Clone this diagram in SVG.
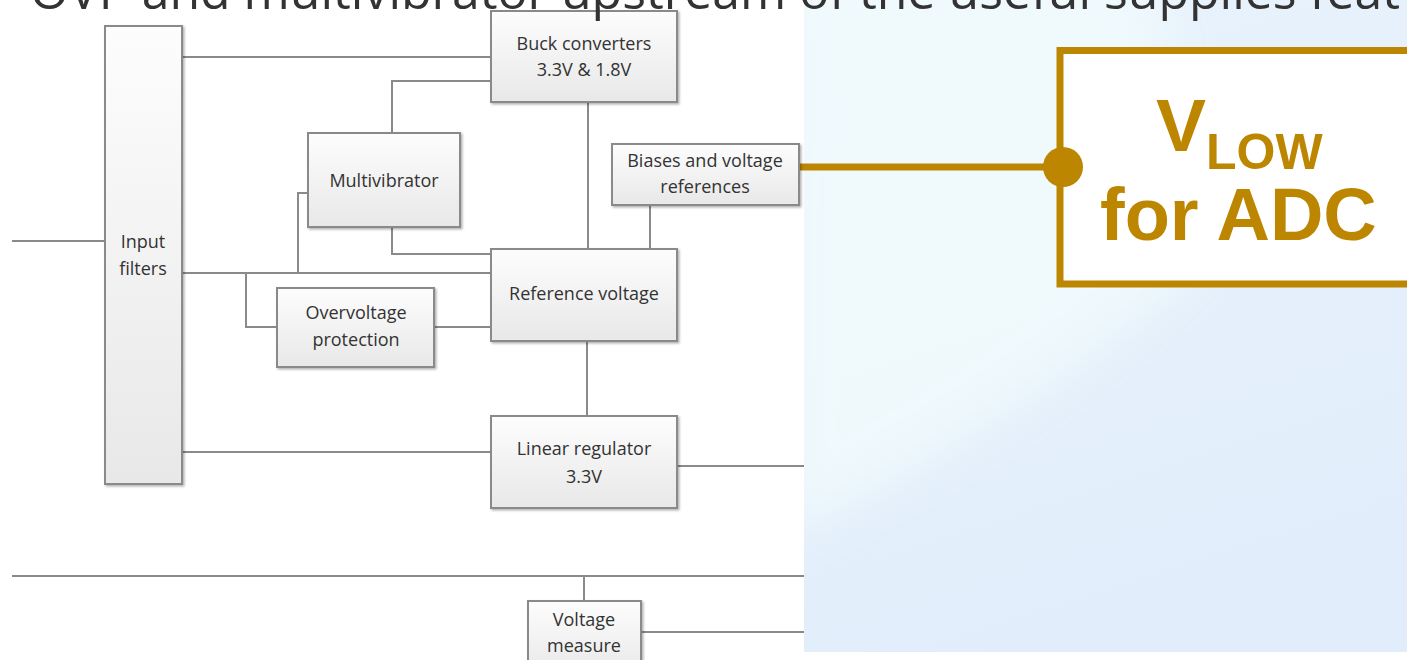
<svg xmlns="http://www.w3.org/2000/svg" width="1407" height="660" viewBox="0 0 1407 660">
<defs>
<linearGradient id="boxg" x1="0" y1="0" x2="0" y2="1">
<stop offset="0" stop-color="#fdfdfd"/>
<stop offset="1" stop-color="#e8e8e8"/>
</linearGradient>
<linearGradient id="bg" x1="0" y1="0" x2="0.3" y2="1">
<stop offset="0" stop-color="#e9f3fc"/>
<stop offset="1" stop-color="#e1edfa"/>
</linearGradient>
<filter id="sh" x="-10%" y="-10%" width="120%" height="120%">
<feDropShadow dx="1.5" dy="1.5" stdDeviation="1" flood-color="#000" flood-opacity="0.3"/>
</filter>
<filter id="blur" x="-50%" y="-50%" width="200%" height="200%">
<feGaussianBlur stdDeviation="25"/>
</filter>
<clipPath id="panel"><rect x="804" y="0" width="603" height="652"/></clipPath>
<style>
.box{fill:url(#boxg);stroke:#8a8a8a;stroke-width:2;filter:url(#sh)}
.lbl{font-family:"Open Sans","Noto Sans",sans-serif;font-size:18px;fill:#333333;text-anchor:middle}
.wire{fill:none;stroke:#8a8a8a;stroke-width:2}
.gold{fill:none;stroke:#bd8600;stroke-width:7}
.gt{font-family:"Liberation Sans",Arial,sans-serif;font-weight:bold;fill:#bd8600}
</style>
</defs>
<rect width="1407" height="660" fill="#ffffff"/>
<g id="background-panel">
<rect x="804" y="0" width="603" height="652" fill="url(#bg)"/>
<g clip-path="url(#panel)">
<path d="M780,540 C900,470 1050,400 1200,260 L1150,-40 L780,-40 Z" fill="#f2fbfd" filter="url(#blur)" opacity="0.85"/>
</g>
</g>
<g id="connectors">
<path class="wire" d="M12,241 H105"/>
<path class="wire" d="M182,57 H491"/>
<path class="wire" d="M392,133 V81 H491"/>
<path class="wire" d="M308,193 H298 V273"/>
<path class="wire" d="M392,227 V254 H491"/>
<path class="wire" d="M182,273 H491"/>
<path class="wire" d="M246,273 V327 H277"/>
<path class="wire" d="M434,327 H491"/>
<path class="wire" d="M588,102 V249"/>
<path class="wire" d="M650,205 V249"/>
<path class="wire" d="M587,341 V416"/>
<path class="wire" d="M182,452 H491"/>
<path class="wire" d="M677,466 H804"/>
<path class="wire" d="M12,576 H804"/>
<path class="wire" d="M584,576 V601"/>
<path class="wire" d="M641,632 H804"/>
<path class="gold" d="M799,167 H1063"/>
</g>
<g id="input-filters">
<rect class="box" x="105" y="26" width="77" height="458"/>
<text class="lbl" x="143" y="248">Input</text>
<text class="lbl" x="143" y="275">filters</text>
</g>
<g id="buck-converters">
<rect class="box" x="491" y="11" width="186" height="91"/>
<text class="lbl" x="584" y="50">Buck converters</text>
<text class="lbl" x="584" y="76">3.3V &amp; 1.8V</text>
</g>
<g id="multivibrator">
<rect class="box" x="308" y="133" width="152" height="94"/>
<text class="lbl" x="384" y="187">Multivibrator</text>
</g>
<g id="biases">
<rect class="box" x="612" y="144" width="187" height="61"/>
<text class="lbl" x="705" y="167">Biases and voltage</text>
<text class="lbl" x="705" y="193">references</text>
</g>
<g id="reference-voltage">
<rect class="box" x="491" y="249" width="186" height="92"/>
<text class="lbl" x="584" y="300">Reference voltage</text>
</g>
<g id="overvoltage-protection">
<rect class="box" x="277" y="288" width="157" height="79"/>
<text class="lbl" x="356" y="319">Overvoltage</text>
<text class="lbl" x="356" y="346">protection</text>
</g>
<g id="linear-regulator">
<rect class="box" x="491" y="416" width="186" height="92"/>
<text class="lbl" x="584" y="455">Linear regulator</text>
<text class="lbl" x="584" y="483">3.3V</text>
</g>
<g id="voltage-measure">
<rect class="box" x="528" y="601" width="113" height="75"/>
<text class="lbl" x="584" y="626">Voltage</text>
<text class="lbl" x="584" y="652">measure</text>
</g>
<g id="vlow-adc">
<rect x="1060" y="50.5" width="420" height="233.5" fill="#ffffff" stroke="#bd8600" stroke-width="7"/>
<circle cx="1063" cy="167" r="20" fill="#bd8600"/>
<text class="gt" x="1156" y="151" font-size="75">V<tspan font-size="50" dy="18">LOW</tspan></text>
<text class="gt" x="1100" y="240" font-size="74">for ADC</text>
</g>
<g id="title">
<text x="30" y="9" font-family="'Open Sans','Noto Sans',sans-serif" font-size="50" fill="#333333" textLength="1370" lengthAdjust="spacingAndGlyphs">OVP and multivibrator upstream of the useful supplies feat</text>
</g>
</svg>
